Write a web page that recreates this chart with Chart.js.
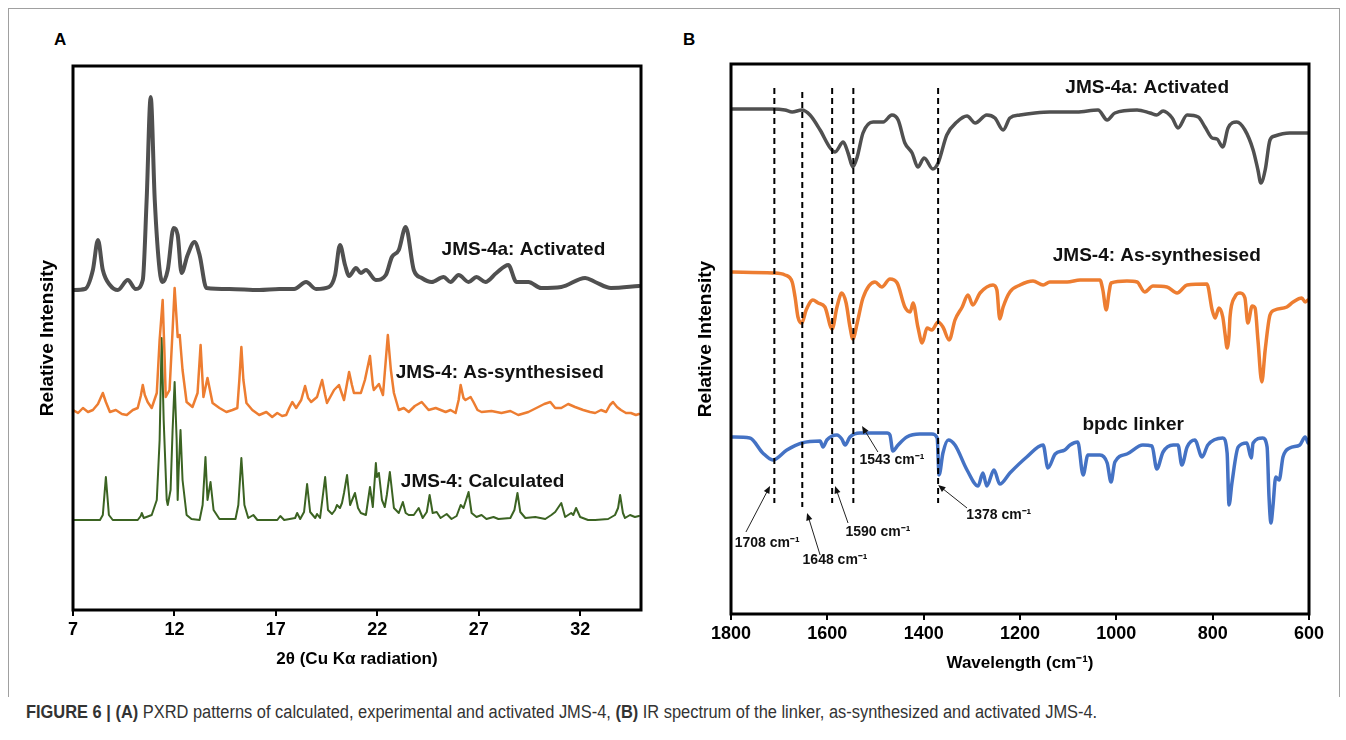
<!DOCTYPE html>
<html>
<head>
<meta charset="utf-8">
<script src="https://cdn.jsdelivr.net/npm/chart.js@4.4.0/dist/chart.umd.min.js"></script>
<style>
  body { margin: 0; background: #fff; width: 1346px; height: 740px; position: relative; overflow: hidden; }
  #frame { position: absolute; left: 8px; top: 8px; width: 1330px; height: 688px; border: 1px solid #a0a0a0; border-bottom: none; }
  .letter { position: absolute; font: bold 17px "Liberation Sans", Arial, sans-serif; color: #000; }
  canvas { position: absolute; top: 0; }
  #caption { position: absolute; left: 26px; top: 702px; font: 18px "Liberation Sans", Arial, sans-serif; color: #333; white-space: nowrap; transform: scaleX(0.912); transform-origin: left top; }
</style>
</head>
<body>
<div id="frame"></div>
<div class="letter" style="left:54px;top:30px">A</div>
<div class="letter" style="left:683px;top:30px">B</div>
<canvas id="pxrd" width="660" height="700" style="left:0"></canvas>
<canvas id="ir" width="686" height="700" style="left:660px"></canvas>
<div id="caption"><b>FIGURE 6 | (A)</b> PXRD patterns of calculated, experimental and activated JMS-4, <b>(B)</b> IR spectrum of the linker, as-synthesized and activated JMS-4.</div>

<script>
// ---- panel A : PXRD ----
const xTicksA = [7, 12, 17, 22, 27, 32];

const activated2T = [7.00,7.59,7.98,8.23,8.47,8.82,9.21,9.70,10.09,10.44,10.63,10.83,11.03,11.27,11.42,11.67,11.96,12.16,12.35,12.65,12.99,13.24,13.58,14.71,16.18,17.17,17.90,18.49,18.98,19.62,19.92,20.16,20.41,20.61,20.95,21.19,21.44,21.93,22.42,22.72,23.06,23.40,23.80,24.19,24.68,25.27,25.61,26.01,26.50,26.89,27.33,27.87,28.46,28.86,29.45,30.08,31.07,32.25,32.74,33.52,34.90];
const activatedI = [320,321,340,370,340,325,320,330,321,330,410,513,410,340,328,340,382,375,337,355,368,355,322,321,320,321,321,328,321,323,335,365,345,334,342,337,340,330,335,353,360,383,340,332,328,333,328,335,328,333,328,337,345,328,328,322,323,332,328,322,324];

const synth2T = [7.00,7.25,7.49,7.74,7.98,8.23,8.47,8.62,8.82,9.11,9.41,9.65,9.95,10.19,10.34,10.44,10.54,10.68,10.88,11.13,11.27,11.42,11.52,11.57,11.76,11.91,12.01,12.11,12.16,12.26,12.40,12.60,12.89,13.14,13.29,13.43,13.63,13.88,14.22,14.56,14.86,15.10,15.20,15.30,15.40,15.55,15.84,16.18,16.53,16.82,17.07,17.31,17.51,17.66,17.81,18.00,18.25,18.44,18.59,18.74,19.03,19.28,19.43,19.52,19.87,20.11,20.36,20.61,20.75,20.85,21.19,21.39,21.64,21.78,21.83,22.08,22.28,22.42,22.52,22.67,22.82,23.06,23.31,23.55,23.85,24.19,24.53,24.88,25.37,25.61,25.86,26.01,26.11,26.25,26.35,26.60,26.74,26.94,27.14,27.63,28.12,28.56,28.95,29.45,29.94,30.23,30.53,30.77,31.07,31.41,31.75,32.15,32.49,32.74,33.03,33.28,33.47,33.62,33.82,34.01,34.26,34.50,34.75,34.90];
const synthI = [200,197,202,198,200,206,217,208,198,200,196,195,200,202,214,225,215,208,202,217,270,310,250,213,220,280,322,290,273,275,240,208,203,217,265,213,232,207,202,198,200,202,230,263,230,207,200,195,198,193,197,194,195,202,208,202,210,224,212,208,213,230,215,207,220,225,210,238,225,217,217,230,254,225,220,226,215,250,275,240,217,200,202,198,204,208,200,202,198,200,197,210,225,212,210,213,208,200,198,199,197,199,195,198,203,206,208,202,202,206,203,200,198,197,200,198,205,208,203,200,197,197,195,196];

const calc2T = [7.00,8.33,8.47,8.62,8.77,8.96,10.19,10.34,10.39,10.49,10.88,11.13,11.27,11.37,11.47,11.62,11.67,11.81,11.91,12.01,12.11,12.16,12.21,12.30,12.40,12.60,12.84,13.24,13.39,13.53,13.63,13.78,13.93,14.22,15.01,15.15,15.30,15.45,15.64,15.89,16.09,17.07,17.22,17.41,17.95,18.05,18.20,18.39,18.54,18.69,18.94,19.03,19.18,19.43,19.57,19.77,19.92,20.01,20.16,20.26,20.36,20.51,20.66,20.90,21.05,21.19,21.44,21.64,21.78,21.93,21.98,22.08,22.23,22.37,22.47,22.62,22.82,23.06,23.26,23.40,23.55,23.80,24.04,24.24,24.44,24.58,24.73,24.93,25.12,25.42,25.66,25.91,26.11,26.25,26.50,26.65,26.89,27.14,27.38,27.73,27.97,28.56,28.76,28.91,29.05,29.30,29.79,30.28,30.58,30.77,31.07,31.26,31.56,31.66,31.80,32.00,32.39,32.74,33.38,33.72,33.87,33.97,34.11,34.21,34.46,34.70,34.90];
const calcI = [90,90,95,133,95,90,90,94,97,92,95,110,170,272,190,110,105,120,180,228,170,110,140,180,130,95,91,90,105,153,110,128,100,91,91,105,152,105,92,95,90,90,94,90,92,97,91,98,126,98,92,96,92,133,100,96,100,105,102,107,117,135,105,117,102,97,95,123,103,147,133,137,110,103,115,138,102,97,108,97,95,95,102,92,98,115,97,98,92,96,91,94,105,102,118,97,93,95,91,93,91,92,100,117,98,92,93,91,95,98,107,93,97,95,102,93,90,90,91,95,102,115,97,92,95,93,94];

const labelsA = ['JMS-4a: Activated', 'JMS-4: As-synthesised', 'JMS-4: Calculated'];
const labelA2T = [25.17, 22.91, 23.16];
const labelAI = [360, 237, 128];

// ---- panel B : IR ----
const xTicksB = [1800, 1600, 1400, 1200, 1000, 800, 600];

const irActWn = [1798,1713,1688,1673,1653,1636,1615,1594,1584,1567,1557,1547,1538,1526,1505,1484,1466,1453,1439,1424,1412,1399,1381,1370,1352,1331,1310,1293,1269,1252,1235,1221,1200,1169,1138,1082,1038,1019,1003,957,930,916,903,884,872,853,830,816,801,791,779,768,750,733,716,706,700,691,681,671,640,602];
const irActT = [505,505,504,502,504,499,484,466,462,472,461,447,457,481,492,492,499,494,471,461,447,456,445,451,479,492,498,491,499,496,484,496,499,501,502,502,504,494,501,504,501,499,503,496,486,499,497,487,476,475,467,486,492,484,464,444,431,444,474,478,481,481];

const irSynWn = [1798,1713,1688,1673,1667,1661,1653,1644,1630,1619,1605,1590,1580,1570,1561,1553,1547,1538,1526,1501,1487,1470,1455,1439,1428,1422,1412,1403,1393,1383,1370,1360,1347,1335,1320,1308,1298,1283,1256,1248,1242,1235,1221,1200,1173,1152,1138,1102,1075,1034,1028,1021,1015,1011,978,957,941,924,895,874,853,812,801,795,787,779,774,770,766,764,754,743,733,727,718,712,706,698,691,681,671,646,633,615,608,602];
const irSynT = [342,341,339,332,317,297,291,304,314,311,307,285,307,321,311,287,275,291,316,332,327,335,331,307,302,311,287,271,286,284,292,287,274,294,307,319,309,321,329,324,295,307,322,329,333,329,332,332,334,334,324,304,322,331,333,332,322,328,327,321,329,330,304,296,306,297,279,266,279,297,317,321,316,291,308,306,274,232,264,299,304,307,312,316,312,314];

const irLinkWn = [1798,1761,1734,1713,1684,1653,1615,1609,1601,1580,1570,1563,1553,1532,1476,1470,1464,1453,1435,1408,1383,1372,1368,1360,1349,1335,1310,1287,1277,1269,1254,1242,1221,1186,1152,1142,1127,1107,1096,1080,1069,1059,1034,1019,1011,1003,978,945,926,916,903,882,872,864,853,837,822,810,779,770,766,760,747,729,720,716,696,687,683,679,675,669,662,654,640,619,608,602];
const irLinkT = [177,176,161,154,164,171,173,167,174,179,175,169,177,181,181,179,163,169,177,180,180,176,139,161,174,169,144,128,141,128,144,130,141,157,169,146,160,164,169,172,139,159,159,151,132,152,160,169,168,145,162,169,169,149,167,174,157,169,176,161,109,131,167,171,156,171,176,167,117,91,107,137,134,157,166,169,177,171];

const labelsB = ['JMS-4a: Activated', 'JMS-4: As-synthesised', 'bpdc linker'];
const labelBWn = [936, 916, 965];
const labelBT = [526, 358, 189];

// dashed guide lines and their arrow notes
const markerWn = [1710, 1652, 1590, 1546, 1370];
const markerTop = [526, 522, 526, 526, 526];
const markerBottom = [111, 107, 111, 111, 111];
const noteText = ['1708 cm⁻¹', '1648 cm⁻¹', '1590 cm⁻¹', '1543 cm⁻¹', '1378 cm⁻¹'];
const noteWn = [1725, 1584, 1495, 1466, 1244];
const noteT = [71, 54, 82, 154, 99];
const tailWn = [1769, 1615, 1557, 1495, 1310];
const tailT = [82, 59, 91, 162, 106];
const headWn = [1719, 1642, 1584, 1528, 1370];
const headT = [128, 101, 128, 188, 129];

const FONT = '"Liberation Sans", Arial, sans-serif';

function zip(xs, ys) {
    let pts = [];
    for (let i = 0; i < Math.min(xs.length, ys.length); i++) {
        pts.push({ x: xs[i], y: ys[i] });
    }
    return pts;
}

function line(xs, ys, color, width, smooth) {
    return {
        data: zip(xs, ys),
        borderColor: color,
        borderWidth: width,
        pointRadius: 0,
        fill: false,
        cubicInterpolationMode: smooth ? 'monotone' : 'default',
        tension: 0,
        borderJoinStyle: 'round',
        borderCapStyle: 'round'
    };
}

// box, series names and arrows
const decor = {
    id: 'decor',
    afterDatasetsDraw(chart, args, opts) {
        const { ctx, chartArea: a, scales: { x, y } } = chart;
        ctx.save();
        ctx.fillStyle = '#111';
        ctx.textBaseline = 'middle';
        ctx.font = 'bold 19px ' + FONT;
        ctx.textAlign = opts.align;
        opts.names.forEach((t, i) => {
            ctx.fillText(t, x.getPixelForValue(opts.nameX[i]), y.getPixelForValue(opts.nameY[i]));
        });
        if (opts.notes) {
            ctx.font = 'bold 14px ' + FONT;
            ctx.textAlign = 'center';
            ctx.strokeStyle = '#222';
            ctx.lineWidth = 1;
            opts.notes.forEach((t, i) => {
                ctx.fillText(t, x.getPixelForValue(noteWn[i]), y.getPixelForValue(noteT[i]));
                const x0 = x.getPixelForValue(tailWn[i]), y0 = y.getPixelForValue(tailT[i]);
                const x1 = x.getPixelForValue(headWn[i]), y1 = y.getPixelForValue(headT[i]);
                const ang = Math.atan2(y1 - y0, x1 - x0);
                ctx.beginPath();
                ctx.moveTo(x0, y0);
                ctx.lineTo(x1 - 5 * Math.cos(ang), y1 - 5 * Math.sin(ang));
                ctx.stroke();
                ctx.beginPath();
                ctx.moveTo(x1, y1);
                ctx.lineTo(x1 - 8 * Math.cos(ang - 0.4), y1 - 8 * Math.sin(ang - 0.4));
                ctx.lineTo(x1 - 8 * Math.cos(ang + 0.4), y1 - 8 * Math.sin(ang + 0.4));
                ctx.closePath();
                ctx.fill();
            });
        }
        ctx.strokeStyle = '#000';
        ctx.lineWidth = 3;
        ctx.strokeRect(a.left, a.top, a.right - a.left, a.bottom - a.top);
        ctx.restore();
    }
};

function axes(xMin, xMax, ticks, xTitle, yMax, reverse) {
    const tickFont = { family: FONT, size: 18, weight: 'bold' };
    const titleFont = { family: FONT, size: 17, weight: 'bold' };
    return {
        x: {
            type: 'linear', min: xMin, max: xMax, reverse: reverse,
            afterBuildTicks: (axis) => { axis.ticks = ticks.map(v => ({ value: v })); },
            afterFit: (s) => { s.height = 64; },
            grid: { drawOnChartArea: false, drawTicks: true, tickLength: 6, color: '#000', lineWidth: 2 },
            border: { display: false },
            ticks: { color: '#000', font: tickFont, padding: 3, maxRotation: 0, callback: (v) => String(v) },
            title: { display: true, text: xTitle, color: '#000', font: titleFont, padding: { top: 4, bottom: 4 } }
        },
        y: {
            min: 0, max: yMax,
            afterFit: (s) => { s.width = 40; },
            ticks: { display: false },
            grid: { display: false },
            border: { display: false },
            title: { display: true, text: 'Relative Intensity', color: '#000', font: { family: FONT, size: 19, weight: 'bold' }, padding: { top: 3, bottom: 3 } }
        }
    };
}

const common = {
    responsive: false,
    animation: false,
    devicePixelRatio: 1,
    events: []
};

new Chart(document.getElementById('pxrd'), {
    type: 'line',
    data: {
        datasets: [
            line(activated2T, activatedI, '#505050', 4, true),
            line(synth2T, synthI, '#ED7D31', 2.5, false),
            line(calc2T, calcI, '#3B6322', 2, false)
        ]
    },
    options: Object.assign({}, common, {
        layout: { padding: { left: 33, right: 19, top: 66, bottom: 26 } },
        plugins: {
            legend: { display: false },
            tooltip: { enabled: false },
            decor: { names: labelsA, nameX: labelA2T, nameY: labelAI, align: 'left' }
        },
        scales: axes(7, 35, xTicksA, '2θ (Cu Kα radiation)', 544, false)
    }),
    plugins: [decor]
});

const markerSets = markerWn.map((wn, i) => ({
    data: [{ x: wn, y: markerTop[i] }, { x: wn, y: markerBottom[i] }],
    borderColor: '#000',
    borderWidth: 2,
    borderDash: [6, 4],
    pointRadius: 0,
    fill: false
}));

new Chart(document.getElementById('ir'), {
    type: 'line',
    data: {
        datasets: markerSets.concat([
            line(irActWn, irActT, '#505050', 3.5, true),
            line(irSynWn, irSynT, '#ED7D31', 3.5, true),
            line(irLinkWn, irLinkT, '#4472C4', 3.5, true)
        ])
    },
    options: Object.assign({}, common, {
        layout: { padding: { left: 31, right: 37, top: 64, bottom: 22 } },
        plugins: {
            legend: { display: false },
            tooltip: { enabled: false },
            decor: { names: labelsB, nameX: labelBWn, nameY: labelBT, align: 'center', notes: noteText }
        },
        scales: axes(600, 1800, xTicksB, 'Wavelength (cm⁻¹)', 550, true)
    }),
    plugins: [decor]
});
</script>
</body>
</html>
